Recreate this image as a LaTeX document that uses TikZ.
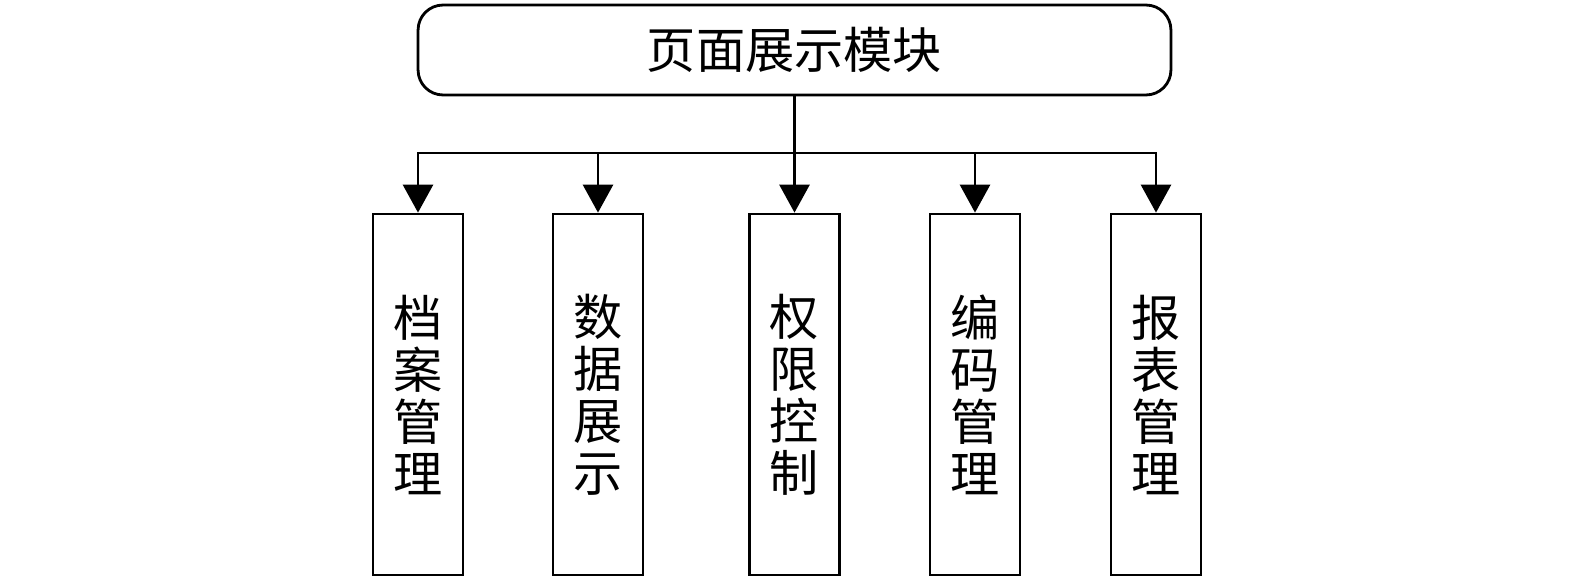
\documentclass[tikz,border=0pt]{standalone}
\usepackage{fontspec}
\newfontfamily\cjk{Noto Sans CJK SC}
\usetikzlibrary{arrows.meta,positioning,calc}

\begin{document}
\begin{tikzpicture}[x=0.02cm,y=-0.02cm,line width=1.6pt,
  mainbox/.style={draw,rounded corners=0.5cm,minimum width=15.06cm,minimum height=1.8cm,font=\cjk\fontsize{28}{30}\selectfont},
  subbox/.style={draw,minimum width=1.8cm,minimum height=7.22cm,align=center,font=\cjk\fontsize{28}{29.6}\selectfont},
  arr/.style={-{Triangle[length=0.56cm,width=0.6cm]}}]
\useasboundingbox (0,0) rectangle (1575,581);
\node[mainbox] (top) at (794.5,50) {页面展示模块};
\node[subbox] (b1) at (418,394.5) {档\\案\\管\\理};
\node[subbox] (b2) at (598,394.5) {数\\据\\展\\示};
\node[subbox] (b3) at (794.5,394.5) {权\\限\\控\\制};
\node[subbox] (b4) at (975,394.5) {编\\码\\管\\理};
\node[subbox] (b5) at (1156,394.5) {报\\表\\管\\理};
\coordinate (bus) at (794.5,153);
\draw (top.south) -- (bus);
\draw[line cap=rect] (b1.north |- bus) -- (b5.north |- bus);
\foreach \b in {b1,b2,b3,b4,b5}
  \draw[arr] (\b.north |- bus) -- (\b.north);
\end{tikzpicture}
\end{document}
